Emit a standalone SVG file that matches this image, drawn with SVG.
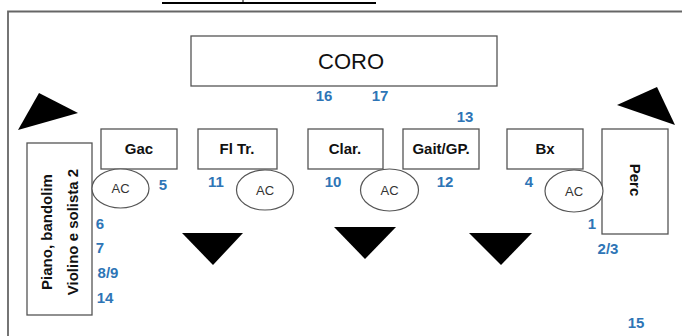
<svg xmlns="http://www.w3.org/2000/svg" width="682" height="336" viewBox="0 0 682 336">
<style>
.box{fill:#fff;stroke:#555;stroke-width:1.3}
.ac{fill:#fff;stroke:#555;stroke-width:1.2}
.lbl{font-family:"Liberation Sans",Arial,sans-serif;font-weight:bold;font-size:15px;fill:#111;text-anchor:middle}
.act{font-family:"Liberation Sans",Arial,sans-serif;font-size:13px;fill:#333;text-anchor:middle}
.num{font-family:"Liberation Sans",Arial,sans-serif;font-weight:bold;font-size:15px;fill:#2e75b6;text-anchor:middle}
.tri{fill:#000}
</style>
<rect width="682" height="336" fill="#fff"/>
<g id="frame">
<line x1="162" y1="3" x2="376" y2="3" stroke="#000" stroke-width="2"/>
<line x1="243" y1="0" x2="243" y2="2" stroke="#000" stroke-width="1"/>
<polyline points="8,336 8,11.5 682,11.5" fill="none" stroke="#666" stroke-width="1.8"/>
</g>
<g id="coro"><rect class="box" x="191" y="36" width="306" height="50"/><text x="351" y="69" font-family="Liberation Sans,Arial,sans-serif" font-size="22" text-anchor="middle" fill="#111">CORO</text></g>
<g id="piano"><rect class="box" x="27" y="143" width="65" height="172"/>
<text class="lbl" transform="translate(52,232) rotate(-90)">Piano, bandolim</text>
<text class="lbl" transform="translate(78,232) rotate(-90)">Violino e solista 2</text></g>
<g id="gac"><rect class="box" x="101" y="129" width="76" height="40"/><text class="lbl" x="139" y="154">Gac</text></g>
<g id="fltr"><rect class="box" x="198" y="129" width="79" height="40"/><text class="lbl" x="237" y="154">Fl Tr.</text></g>
<g id="clar"><rect class="box" x="308" y="129" width="75" height="40"/><text class="lbl" x="345" y="154">Clar.</text></g>
<g id="gait"><rect class="box" x="403" y="129" width="76" height="40"/><text class="lbl" x="441" y="154">Gait/GP.</text></g>
<g id="bx"><rect class="box" x="507" y="129" width="76" height="40"/><text class="lbl" x="545" y="154">Bx</text></g>
<g id="perc"><rect class="box" x="602" y="129" width="66" height="105"/><text class="lbl" transform="translate(630,180) rotate(90)">Perc</text></g>
<g id="ac1"><ellipse class="ac" cx="120.5" cy="188.5" rx="28.5" ry="19.5"/><text class="act" x="120.5" y="193">AC</text></g>
<g id="ac2"><ellipse class="ac" cx="265" cy="190" rx="28.5" ry="20"/><text class="act" x="265" y="194.5">AC</text></g>
<g id="ac3"><ellipse class="ac" cx="389.5" cy="190" rx="29" ry="21"/><text class="act" x="389.5" y="194.5">AC</text></g>
<g id="ac4"><ellipse class="ac" cx="574" cy="191" rx="29" ry="21"/><text class="act" x="574" y="195.5">AC</text></g>
<g id="speakers">
<polygon class="tri" points="18,130 39,93 78,113"/>
<polygon class="tri" points="617,105 657,87 675,125"/>
<polygon class="tri" points="182,233 243,233 213,265"/>
<polygon class="tri" points="334,227 396,227 365,259"/>
<polygon class="tri" points="469,233 532,233 501,265"/>
</g>
<g id="numbers">
<text class="num" x="324" y="101">16</text>
<text class="num" x="380" y="101">17</text>
<text class="num" x="465" y="122">13</text>
<text class="num" x="163" y="190">5</text>
<text class="num" x="216" y="187">11</text>
<text class="num" x="333" y="187">10</text>
<text class="num" x="445" y="187">12</text>
<text class="num" x="529" y="187">4</text>
<text class="num" x="592" y="229">1</text>
<text class="num" x="608" y="254">2/3</text>
<text class="num" x="636" y="328">15</text>
<text class="num" x="100" y="229">6</text>
<text class="num" x="100" y="253">7</text>
<text class="num" x="108" y="278">8/9</text>
<text class="num" x="105" y="303">14</text>
</g>
<g id="connectors"></g>
</svg>
